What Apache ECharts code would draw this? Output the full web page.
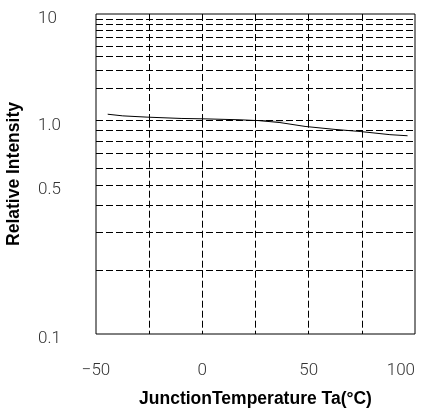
<!DOCTYPE html>
<html>
<head>
<meta charset="utf-8">
<script src="https://cdn.jsdelivr.net/npm/echarts@6/dist/echarts.min.js"></script>
<style>
html, body { margin: 0; padding: 0; background: #fff; }
#chart { width: 422px; height: 412px; }
</style>
</head>
<body>
<div id="chart"></div>
<script>
// curve
var temps = [-44.5, -37.4, -26, -10, 1.7, 17.7, 27.1, 36.5, 48.3, 62.4, 74.2, 88.2, 96.5];
var intensity = [1.15, 1.11, 1.08, 1.05, 1.04, 1.02, 1.0, 0.98, 0.94, 0.91, 0.89, 0.86, 0.85];

// dashed horizontal grid lines, upper decade and lower decade
var upperLines = [2, 3, 4, 5, 6, 7, 8, 9, 1];
var lowerLines = [0.2, 0.3, 0.4, 0.5, 0.6, 0.7, 0.8, 0.9];
var labelledLower = 0.5;

var xMin = -50, xMax = 100, xStep = 25;

var points = temps.map(function (t, i) { return [t, intensity[i]]; });

var dash = [7, 3];
var tickFont = { fontFamily: 'Roboto', fontWeight: 300, fontSize: 17, color: '#333' };
var titleFont = { fontFamily: 'Liberation Sans', fontWeight: 'bold', fontSize: 17.5, color: '#000' };

// y tick labels sit a little below their line
var yLabelStyle = {
    align: 'left', verticalAlign: 'top', lineHeight: 10,
    fontFamily: tickFont.fontFamily, fontWeight: tickFont.fontWeight,
    fontSize: tickFont.fontSize, color: tickFont.color
};

function xAxisFor(idx, showLabels) {
    return {
        type: 'value', gridIndex: idx, min: xMin, max: xMax, interval: xStep,
        axisLine: { show: false }, axisTick: { show: false },
        axisLabel: {
            show: showLabels, margin: 28, alignMaxLabel: 'right',
            fontFamily: tickFont.fontFamily, fontWeight: tickFont.fontWeight,
            fontSize: tickFont.fontSize, color: tickFont.color,
            formatter: function (v) {
                if (v % 50 !== 0) return '';
                return v < 0 ? '\u2212' + Math.abs(v) : String(v);
            }
        },
        splitLine: {
            show: true, showMinLine: false, showMaxLine: false,
            lineStyle: { color: '#000', type: dash, width: 1 }
        }
    };
}

function hLines(values) {
    return values.map(function (v) {
        var item = { yAxis: v };
        if (v === labelledLower) {
            item.label = echarts.util.extend({
                show: true, position: 'start', distance: 58, formatter: String(v)
            }, yLabelStyle);
        }
        return item;
    });
}

var chart = echarts.init(document.getElementById('chart'));
chart.setOption({
    animation: false,
    grid: [
        // frame
        { left: 96, right: 7, top: 14, bottom: 78, outerBoundsMode: 'none', show: true, borderColor: '#000', borderWidth: 1, backgroundColor: 'transparent' },
        // 1 .. 10
        { left: 96, right: 7, top: 14, height: 106.7, outerBoundsMode: 'none' },
        // 0.1 .. 1
        { left: 96, right: 7, top: 120.7, bottom: 78, outerBoundsMode: 'none' }
    ],
    xAxis: [
        {
            type: 'value', gridIndex: 0, min: xMin, max: xMax,
            axisLine: { show: false }, axisTick: { show: false }, axisLabel: { show: false }, splitLine: { show: false },
            name: 'JunctionTemperature Ta(°C)', nameLocation: 'middle', nameGap: 56,
            nameTextStyle: titleFont
        },
        xAxisFor(1, false),
        xAxisFor(2, true)
    ],
    yAxis: [
        {
            type: 'value', gridIndex: 0, min: 0, max: 1,
            axisLine: { show: false }, axisTick: { show: false }, axisLabel: { show: false }, splitLine: { show: false },
            name: 'Relative Intensity', nameLocation: 'middle', nameGap: 73,
            nameTextStyle: titleFont
        },
        {
            type: 'log', gridIndex: 1, min: 1, max: 10, logBase: 10,
            axisLine: { show: false }, axisTick: { show: false }, splitLine: { show: false },
            axisLabel: echarts.util.extend({
                margin: 58,
                formatter: function (v) { return v >= 10 ? '10' : '1.0'; }
            }, yLabelStyle)
        },
        {
            type: 'log', gridIndex: 2, min: 0.1, max: 1, logBase: 10,
            axisLine: { show: false }, axisTick: { show: false }, splitLine: { show: false },
            axisLabel: echarts.util.extend({
                margin: 58,
                formatter: function (v) { return v < 0.5 ? '0.1' : ''; }
            }, yLabelStyle)
        }
    ],
    series: [
        {
            type: 'line', xAxisIndex: 1, yAxisIndex: 1, data: points, clip: true,
            showSymbol: false, symbol: 'none', lineStyle: { color: '#000', width: 1 },
            markLine: {
                silent: true, symbol: 'none', label: { show: false },
                lineStyle: { color: '#000', type: dash, width: 1 },
                data: hLines(upperLines)
            }
        },
        {
            type: 'line', xAxisIndex: 2, yAxisIndex: 2, data: points, clip: true,
            showSymbol: false, symbol: 'none', lineStyle: { color: '#000', width: 1 },
            markLine: {
                silent: true, symbol: 'none', label: { show: false },
                lineStyle: { color: '#000', type: dash, width: 1 },
                data: hLines(lowerLines)
            }
        }
    ]
});
</script>
</body>
</html>
